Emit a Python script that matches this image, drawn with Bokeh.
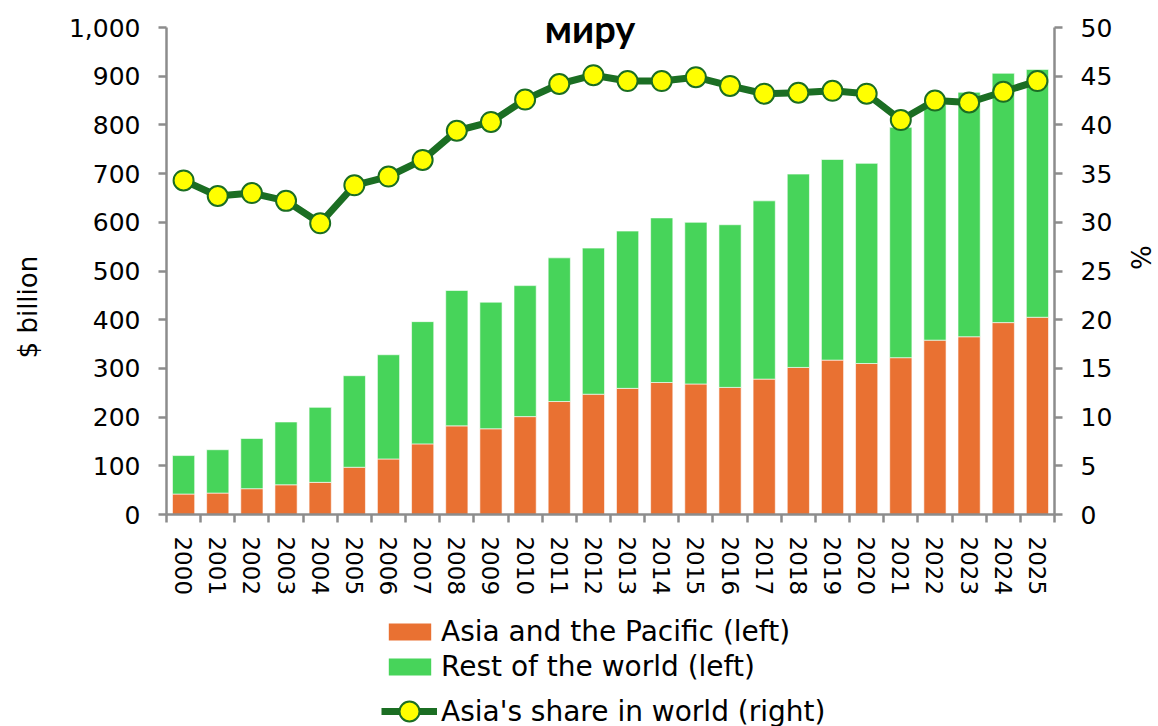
from bokeh.plotting import figure
from bokeh.layouts import column
from bokeh.models import (ColumnDataSource, Range1d, LinearAxis, FixedTicker,
                          NumeralTickFormatter, Legend, LegendItem, Label)
from bokeh.embed import file_html
from bokeh.resources import INLINE

years = [str(y) for y in range(2000, 2026)]
asia_pacific = [42, 44, 53, 61, 66, 97, 114, 145, 182, 176, 201, 232, 247,
                259, 271, 268, 261, 278, 302, 317, 310, 322, 358, 365, 394, 405]
rest_of_world = [79, 89, 103, 129, 154, 188, 214, 251, 278, 260, 269, 295, 300,
                 323, 338, 332, 334, 366, 397, 412, 411, 473, 485, 502, 512, 509]
asia_share = [34.3, 32.7, 33.0, 32.2, 29.9, 33.8, 34.7, 36.4, 39.4, 40.3, 42.6,
              44.2, 45.1, 44.5, 44.5, 44.9, 44.0, 43.2, 43.3, 43.5, 43.2, 40.5,
              42.5, 42.3, 43.4, 44.5]
left_ticks = list(range(0, 1001, 100))
right_ticks = list(range(0, 51, 5))

ORANGE = "#E97132"
GREEN = "#47D45A"
DARK = "#1B6E23"
YELLOW = "#FFFF00"
AXIS = "#8C8C8C"
FONT = "DejaVu Sans"

n = len(years)
centers = [i + 0.5 for i in range(n)]
bounds = list(range(n + 1))

# frame spans from canvas top (0) to y=514; value 1000 sits at y=27
FRAME_H = 514
SCALE = FRAME_H / 487.0

src = ColumnDataSource(dict(x=centers, asia=asia_pacific, rest=rest_of_world,
                            share=asia_share))

p = figure(width=1158, height=600, x_range=Range1d(0, n),
           y_range=Range1d(0, 1000 * SCALE),
           x_axis_type=None, y_axis_type=None, output_backend="svg",
           toolbar_location=None, min_border_left=166, min_border_right=102,
           min_border_top=0, min_border_bottom=600 - FRAME_H)
p.outline_line_color = None
p.extra_y_ranges = {"pct": Range1d(0, 50 * SCALE)}

def style(ax, size="25px"):
    ax.axis_line_color = AXIS
    ax.axis_line_width = 2.5
    ax.major_tick_line_color = AXIS
    ax.major_tick_line_width = 2.5
    ax.major_tick_in = 0
    ax.major_tick_out = 8
    ax.minor_tick_line_color = None
    ax.major_label_text_font = FONT
    ax.major_label_text_font_size = size
    ax.major_label_text_color = "black"
    ax.axis_label_text_font = FONT
    ax.axis_label_text_font_size = "26px"
    ax.axis_label_text_font_style = "normal"
    ax.axis_label_text_color = "black"

xaxis = LinearAxis(ticker=FixedTicker(ticks=centers, minor_ticks=bounds),
                   major_label_overrides={c: y for c, y in zip(centers, years)},
                   major_label_orientation="vertical")
style(xaxis, "23px")
xaxis.major_tick_out = 0
xaxis.major_tick_line_color = None
xaxis.minor_tick_line_color = AXIS
xaxis.minor_tick_line_width = 2.5
xaxis.minor_tick_in = 0
xaxis.minor_tick_out = 8
xaxis.major_label_standoff = 14
p.add_layout(xaxis, "below")

yleft = LinearAxis(ticker=FixedTicker(ticks=left_ticks), bounds=(0, 1000),
                   formatter=NumeralTickFormatter(format="0,0"),
                   axis_label="$ billion" + "\u00a0" * 12)
style(yleft)
yleft.major_label_standoff = 18
yleft.axis_label_standoff = 23
p.add_layout(yleft, "left")

yright = LinearAxis(y_range_name="pct", ticker=FixedTicker(ticks=right_ticks),
                    bounds=(0, 50), axis_label="%")
style(yright)
yright.major_label_standoff = 18
yright.axis_label_standoff = 10
p.add_layout(yright, "right")

bars = p.vbar_stack(["asia", "rest"], x="x", width=0.65, source=src,
                    fill_color=[ORANGE, GREEN], line_color="white",
                    line_width=1, line_alpha=0.6)
ln = p.line("x", "share", source=src, y_range_name="pct", line_width=7,
            line_color=DARK)
pts = p.scatter("x", "share", source=src, y_range_name="pct", size=20,
                fill_color=YELLOW, line_color=DARK, line_width=2)

title = Label(x=12.4, y=1000, text="миру", text_font="Lato", text_font_style="bold",
              text_font_size="38px", text_align="center", text_baseline="alphabetic",
              text_color="black")
p.add_layout(title)

# legend strip below the chart (its frame is aligned with the chart frame);
# its renderers share the chart data but are hidden, only their legend glyphs show
lf = figure(width=1158, height=126, x_range=Range1d(0, n), y_range=Range1d(0, 1000),
            x_axis_type=None, y_axis_type=None, output_backend="svg",
            toolbar_location=None, min_border=0)
lf.outline_line_color = None
lbars = lf.vbar_stack(["asia", "rest"], x="x", width=0.65, source=src,
                      fill_color=[ORANGE, GREEN], line_color=None, visible=False)
lln = lf.line("x", "share", source=src, line_width=7, line_color=DARK, visible=False)
lpts = lf.scatter("x", "share", source=src, size=20, fill_color=YELLOW,
                  line_color=DARK, line_width=2, visible=False)

common = dict(padding=0, margin=0, border_line_color=None, background_fill_alpha=0,
              inactive_fill_alpha=0, label_text_font=FONT,
              label_text_font_size="28px", label_text_color="black",
              label_height=30)
leg1 = Legend(items=[LegendItem(label="Asia and the Pacific (left)", renderers=[lbars[0]]),
                     LegendItem(label="Rest of the world (left)", renderers=[lbars[1]])],
              location=(217, 43), glyph_width=53, glyph_height=21, spacing=2,
              label_standoff=5, **common)
leg2 = Legend(items=[LegendItem(label="Asia's share in world (right)", renderers=[lln, lpts])],
              location=(215, -10), glyph_width=56, glyph_height=50, spacing=0,
              label_standoff=4, **common)
lf.add_layout(leg1)
lf.add_layout(leg2)

layout = column(p, lf, spacing=0)
open("out.html", "w").write(file_html(layout, INLINE))
